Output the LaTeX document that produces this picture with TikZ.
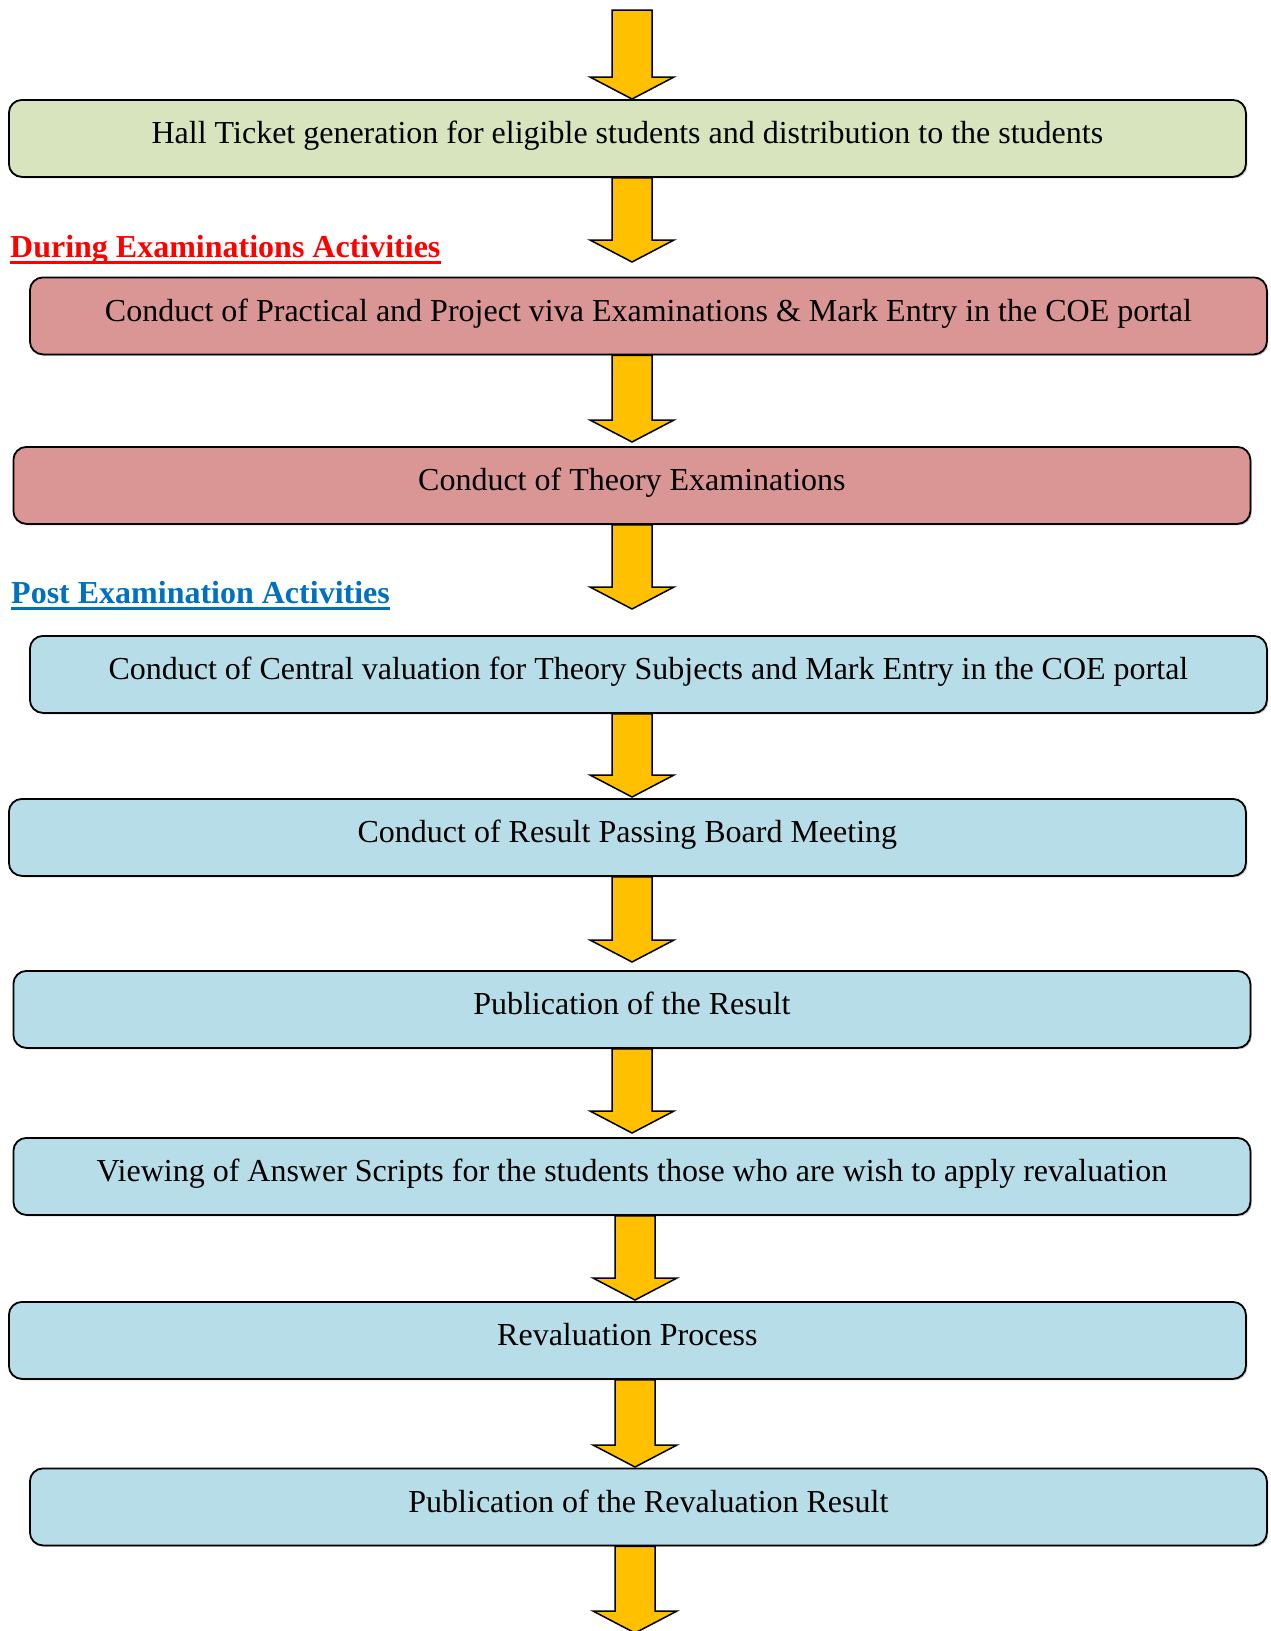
\documentclass[tikz,border=0pt]{standalone}
\usepackage{fontspec}
\setmainfont{Liberation Serif}
\usetikzlibrary{calc,shadows}
\definecolor{hallgreen}{HTML}{D7E4BD}
\definecolor{duringred}{HTML}{D99694}
\definecolor{postblue}{HTML}{B7DDE8}
\definecolor{arrowgold}{HTML}{FFC000}
\definecolor{headred}{HTML}{FF0000}
\definecolor{headblue}{HTML}{0070C0}
\tikzset{
  stage/.style={draw, line width=1.8pt, rounded corners=13pt, anchor=north west, minimum width=1237pt,
    inner xsep=0pt, inner ysep=0pt, text height=44pt, text depth=33pt, font=\fontsize{32}{38}\selectfont,
    drop shadow={shadow xshift=1.5pt, shadow yshift=-1.5pt, fill=black!40}},
  heading/.style={anchor=base west, inner sep=0pt, font=\fontsize{32}{38}\selectfont\bfseries},
  headline/.style={line width=3.2pt},
  blockarrow/.style={draw, line width=1.5pt, fill=arrowgold, line join=miter,
    to path={let \p1=(\tikztostart), \p2=(\tikztotarget) in
      (\x1-20pt,\y1) -- (\x1-20pt,\y2+22pt) -- (\x1-42pt,\y2+22pt) -- (\x1,\y2)
      -- (\x1+42pt,\y2+22pt) -- (\x1+20pt,\y2+22pt) -- (\x1+20pt,\y1) -- cycle}}
}
\begin{document}
\begin{tikzpicture}[x=1pt,y=-1pt]
\useasboundingbox (0,0) rectangle (1270,1631);
\node[stage, fill=hallgreen] (hall) at (8,99) {Hall Ticket generation for eligible students and distribution to the students};
% during examinations
\node[heading, text=headred] (during) at (10,257.7) {During Examinations Activities};
\draw[headline, headred] ($(during.base west)+(0,4.8)$) -- ($(during.base east)+(0,4.8)$);
\node[stage, fill=duringred] (prac) at (29,276.5) {Conduct of Practical and Project viva Examinations \& Mark Entry in the COE portal};
\node[stage, fill=duringred] (theory) at (12.5,446) {Conduct of Theory Examinations};
% post examination
\node[heading, text=headblue] (post) at (11,603.3) {Post Examination Activities};
\draw[headline, headblue] ($(post.base west)+(0,4.8)$) -- ($(post.base east)+(0,4.8)$);
\node[stage, fill=postblue] (central) at (29,635) {Conduct of Central valuation for Theory Subjects and Mark Entry in the COE portal};
\node[stage, fill=postblue] (board) at (8,798) {Conduct of Result Passing Board Meeting};
\node[stage, fill=postblue] (publish) at (12.5,970) {Publication of the Result};
\node[stage, fill=postblue] (viewing) at (12.5,1137) {Viewing of Answer Scripts for the students those who are wish to apply revaluation};
\node[stage, fill=postblue] (reval) at (8,1301) {Revaluation Process};
\node[stage, fill=postblue] (revres) at (29,1467.5) {Publication of the Revaluation Result};
% arrow ends
\coordinate (e0) at (632,10);
\coordinate (e1) at (632,262);
\coordinate (e2) at (632,442);
\coordinate (e3) at (632,609);
\coordinate (e4) at (632,797);
\coordinate (e5) at (632,962);
\coordinate (e6) at (632,1133);
\coordinate (e7) at (635,1300);
\coordinate (e8) at (635,1467);
\coordinate (e9) at (635,1633);
\draw[blockarrow] (e0) to (hall.north -| e0);
\foreach \from/\to in {hall/e1,prac/e2,theory/e3,central/e4,board/e5,publish/e6,viewing/e7,reval/e8,revres/e9}
  \draw[blockarrow] (\from.south -| \to) to (\to);
\end{tikzpicture}
\end{document}
